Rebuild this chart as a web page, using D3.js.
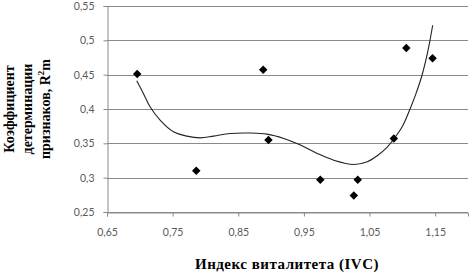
<!DOCTYPE html>
<html>
<head>
<meta charset="utf-8">
<script src="https://cdn.jsdelivr.net/npm/d3@7"></script>
<style>
  body { margin: 0; background: #fff; }
  svg { display: block; }
</style>
</head>
<body>
<div id="chart"></div>
<script>
// observed points (IVC index vs R2m)
const ivc = [0.696, 0.786, 0.888, 0.896, 0.975, 1.026, 1.032, 1.087, 1.106, 1.146];
const r2m = [0.451, 0.310, 0.457, 0.355, 0.297, 0.274, 0.297, 0.357, 0.489, 0.474];

// polynomial trend line
const trendX = [0.6953, 0.7054, 0.7156, 0.7309, 0.7512, 0.7717, 0.792, 0.8123, 0.8378, 0.8683,
                0.8938, 0.9192, 0.9447, 0.9702, 0.9955, 1.026, 1.0465, 1.0618, 1.077, 1.0871,
                1.0999, 1.11, 1.1202, 1.1305, 1.1381, 1.1421, 1.1462];
const trendY = [0.4411, 0.4227, 0.4032, 0.3838, 0.3668, 0.3605, 0.358, 0.3605, 0.3644, 0.3650,
                0.3634, 0.3571, 0.3474, 0.3353, 0.3255, 0.3192, 0.3231, 0.3320, 0.3445, 0.3565,
                0.3745, 0.3960, 0.4210, 0.4510, 0.4810, 0.5000, 0.5220];

const xTicks = [0.65, 0.75, 0.85, 0.95, 1.05, 1.15];
const yTicks = [0.25, 0.3, 0.35, 0.4, 0.45, 0.5, 0.55];

const W = 473, H = 277;
const mLeft = 107, mRight = 468, mTop = 6, mBottom = 212;

const svg = d3.select("#chart").append("svg")
  .attr("width", W).attr("height", H);

const x = d3.scaleLinear().domain([0.65, 1.2]).range([mLeft, mRight]);
const y = d3.scaleLinear().domain([0.25, 0.55]).range([mBottom, mTop]);

const fmt = d => String(+d.toFixed(2)).replace(".", ",");
const gridCol = "#8a8a8a";

// horizontal gridlines
svg.append("g").selectAll("line")
  .data(yTicks).enter().append("line")
  .attr("x1", mLeft).attr("x2", mRight)
  .attr("y1", d => Math.round(y(d)) + 0.5).attr("y2", d => Math.round(y(d)) + 0.5)
  .attr("stroke", gridCol).attr("stroke-width", 1);

// y axis
const yAxis = svg.append("g")
  .attr("transform", `translate(${mLeft + 0.5},0)`)
  .call(d3.axisLeft(y).tickValues(yTicks).tickSize(4).tickPadding(9).tickFormat(fmt));
yAxis.select(".domain").attr("stroke", gridCol);
yAxis.selectAll(".tick line").attr("stroke", gridCol);
yAxis.selectAll("text")
  .attr("font-family", "Lato, 'Open Sans', sans-serif").attr("font-size", 10.5).attr("fill", "#5a5a5a");

// x axis
const xAxis = svg.append("g")
  .attr("transform", `translate(0,${Math.round(y(0.25)) + 0.5})`)
  .call(d3.axisBottom(x).tickValues(xTicks).tickSize(4).tickPadding(12).tickFormat(fmt));
xAxis.select(".domain").attr("stroke", gridCol);
xAxis.selectAll(".tick line").attr("stroke", gridCol);
xAxis.selectAll("text")
  .attr("font-family", "Lato, 'Open Sans', sans-serif").attr("font-size", 10.5).attr("fill", "#5a5a5a");

// trend line
const line = d3.line()
  .x((d, i) => x(trendX[i]))
  .y(d => y(d))
  .curve(d3.curveCatmullRom.alpha(0.5));
svg.append("path")
  .datum(trendY)
  .attr("d", line)
  .attr("fill", "none")
  .attr("stroke", "#222")
  .attr("stroke-width", 1.1);

// diamond markers
const diamond = d3.symbol().type(d3.symbolDiamond2).size(46);
svg.append("g").selectAll("path")
  .data(ivc).enter().append("path")
  .attr("d", diamond)
  .attr("transform", (d, i) => `translate(${x(d)},${y(r2m[i])})`)
  .attr("fill", "#000");

// axis titles
svg.append("text")
  .attr("x", 287).attr("y", 269)
  .attr("text-anchor", "middle")
  .attr("font-family", "'Liberation Serif', serif").attr("font-weight", "bold")
  .attr("font-size", 15).attr("letter-spacing", 0.5)
  .text("Индекс виталитета (IVC)");

const ytitle = svg.append("text")
  .attr("transform", "translate(0,109) rotate(-90)")
  .attr("text-anchor", "middle")
  .attr("font-family", "'Liberation Serif', serif").attr("font-weight", "bold")
  .attr("font-size", 14);
ytitle.append("tspan").attr("x", 0).attr("y", 14).text("Коэффициент");
ytitle.append("tspan").attr("x", 0).attr("y", 32).text("детерминации");
const l3 = ytitle.append("tspan").attr("x", 0).attr("y", 50).text("признаков, R");
l3.append("tspan").attr("font-size", 9).attr("dy", -6).text("2");
l3.append("tspan").attr("dy", 6).text("m");
</script>
</body>
</html>
